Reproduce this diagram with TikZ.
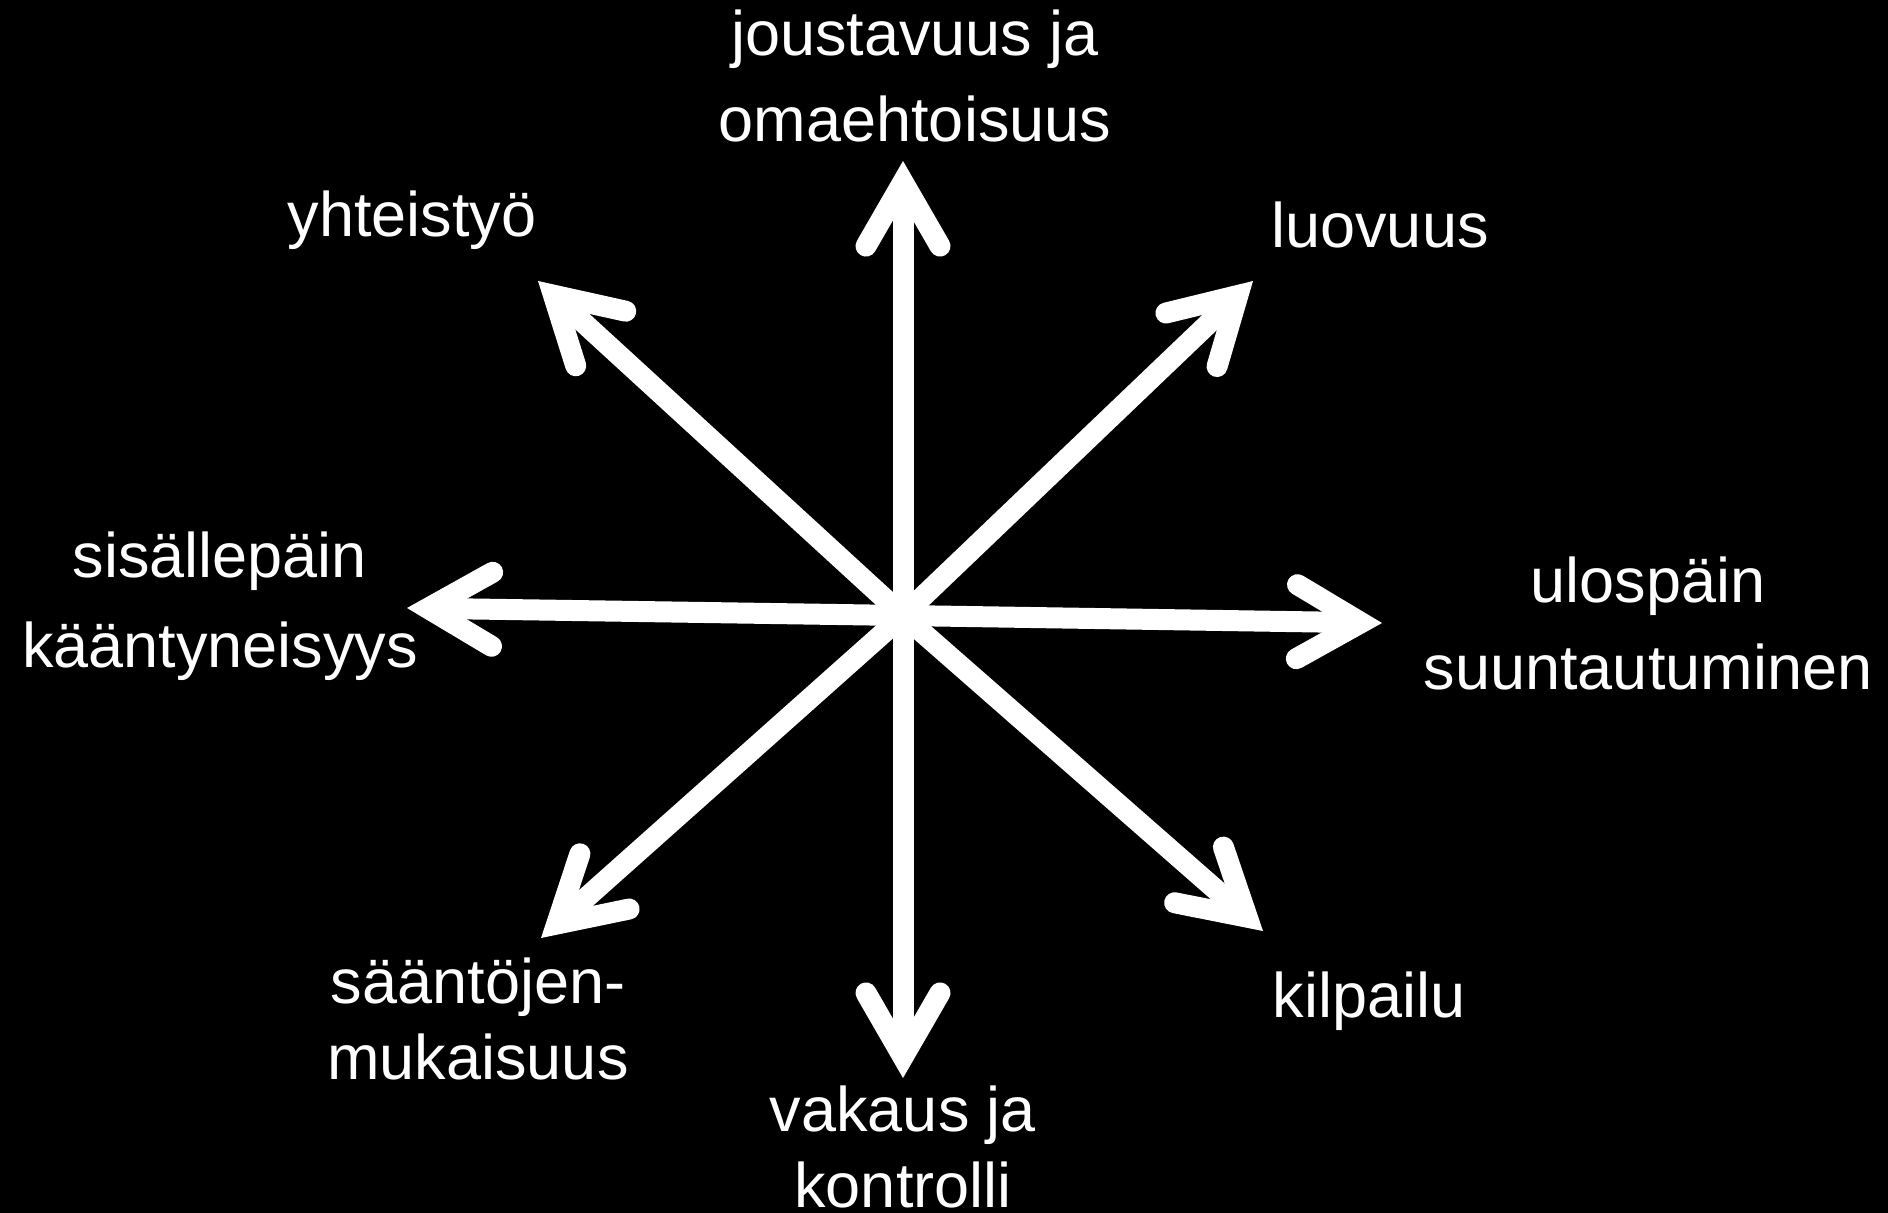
\documentclass[tikz,border=0pt]{standalone}
\usepackage{fontspec}
\setmainfont{Liberation Sans}
\usetikzlibrary{calc}
\tikzset{
  axisline/.style={draw=white, line width=10.5pt, line cap=butt},
  headline/.style={draw=white, line width=10.5pt, line cap=round, line join=miter, miter limit=10},
  lbl/.style={text=white, inner sep=0pt, anchor=base, font=\fontsize{31.5}{38}\selectfont},
}
\newcommand{\twolines}[3][0pt]{\begin{tabular}[t]{@{}c@{}}#2\\[#1]#3\end{tabular}}
\begin{document}
\begin{tikzpicture}[x=0.5pt,y=-0.5pt]
\fill[black] (0,0) rectangle (1888,1213);
\useasboundingbox (0,0) rectangle (1888,1213);
% centre and arrow tips
\coordinate (C) at (903,615.5);
\coordinate (Tn) at (903,161);
\coordinate (Ts) at (903,1078);
\coordinate (Tw) at (407,608);
\coordinate (Te) at (1382,623);
\coordinate (Tnw) at (538,281);
\coordinate (Tne) at (1253,281);
\coordinate (Tsw) at (541,938);
\coordinate (Tse) at (1263,931);
\foreach \t in {Tn,Ts,Tw,Te,Tnw,Tne,Tsw,Tse}{
  \coordinate (V) at ($(\t)!10.5pt!(C)$);
  \draw[axisline] (C) -- (V);
  \draw[headline] ($(V)!37pt!30:(C)$) -- (V) -- ($(V)!37pt!-30:(C)$);
}
% labels
\node[lbl] (Ln) at (915,56) {\twolines[5pt]{joustavuus ja}{omaehtoisuus}};
\node[lbl] (Lnw) at (412,237) {yhteistyö};
\node[lbl] (Lne) at (1380,248) {luovuus};
\node[lbl] (Lw) at (220,577) {\twolines[7pt]{sisällepäin}{kääntyneisyys}};
\node[lbl] (Le) at (1648,602) {\twolines[5.5pt]{ulospäin}{suuntautuminen}};
\node[lbl] (Lsw) at (478,1003) {\twolines{sääntöjen-}{mukaisuus}};
\node[lbl] (Lse) at (1369,1017) {kilpailu};
\node[lbl] (Ls) at (903,1131) {\twolines{vakaus ja}{kontrolli}};
\end{tikzpicture}
\end{document}
